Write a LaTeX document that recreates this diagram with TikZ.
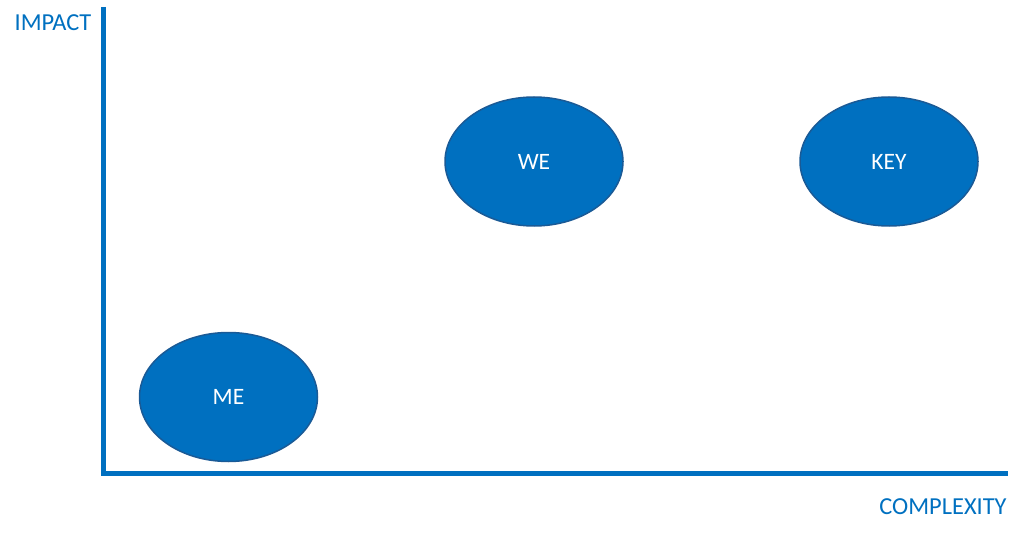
\documentclass[tikz,border=0pt]{standalone}
\usepackage{fontspec}
\setmainfont{Carlito}
\usepackage{xcolor}
\usetikzlibrary{shapes.geometric, positioning, calc}
\definecolor{axisblue}{HTML}{0070C0}
\definecolor{rimblue}{HTML}{1A5A96}

\begin{document}
\begin{tikzpicture}[x=1pt, y=-1pt]
    \tikzstyle{blob} = [ellipse, minimum width=178pt, minimum height=129pt, inner sep=0pt, draw=rimblue, line width=1.5pt, fill=axisblue, text=white, font=\fontsize{23.5}{28}\selectfont]
    \tikzstyle{axis} = [axisblue, line width=5pt]
    \tikzstyle{axlabel} = [text=axisblue, inner sep=0pt, font=\fontsize{24.4}{29}\selectfont]

    \useasboundingbox (0,0) rectangle (1024,537);

    % axes
    \coordinate (top) at (103.5,7);
    \coordinate (origin) at (103.5,473.5);
    \coordinate (right) at (1008,473.5);
    \draw[axis] (top) -- (origin) -- (right);

    \node[axlabel] (impact) at (53,23) {IMPACT};
    \node[axlabel] (complexity) at (943,507) {COMPLEXITY};

    % circles of influence
    \node[blob] (me) at (228.5,397) {ME};
    \node[blob] (we) at (534,161.5) {WE};
    \node[blob] (key) at (889,161.5) {KEY};
\end{tikzpicture}
\end{document}
